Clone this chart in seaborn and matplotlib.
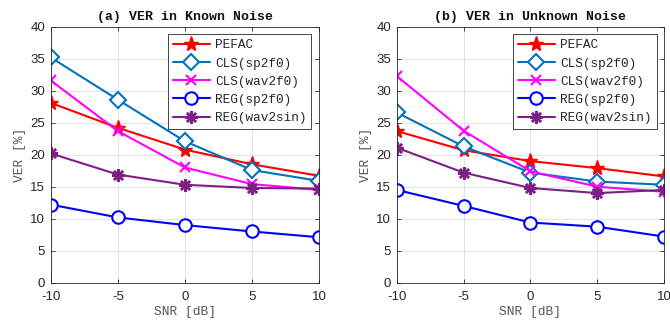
import matplotlib
matplotlib.use("Agg")
import matplotlib.pyplot as plt
import seaborn as sns
import numpy as np

snr = [-10, -5, 0, 5, 10]
methods = ["PEFAC", "CLS(sp2f0)", "CLS(wav2f0)", "REG(sp2f0)", "REG(wav2sin)"]

known_pefac = [28.1, 24.2, 20.8, 18.5, 16.7]
known_cls_sp2f0 = [35.2, 28.6, 22.1, 17.6, 15.9]
known_cls_wav2f0 = [31.6, 23.7, 18.0, 15.4, 14.5]
known_reg_sp2f0 = [12.2, 10.2, 9.0, 8.0, 7.1]
known_reg_wav2sin = [20.2, 16.9, 15.3, 14.8, 14.7]

unk_pefac = [23.7, 20.7, 19.0, 17.9, 16.6]
unk_cls_sp2f0 = [26.6, 21.3, 17.2, 15.8, 15.3]
unk_cls_wav2f0 = [32.3, 23.75, 17.4, 15.0, 14.2]
unk_reg_sp2f0 = [14.5, 12.0, 9.4, 8.75, 7.2]
unk_reg_wav2sin = [21.1, 17.2, 14.8, 14.0, 14.5]

titles = ["(a) VER in Known Noise", "(b) VER in Unknown Noise"]
xticks = [-10, -5, 0, 5, 10]
yticks = [0, 5, 10, 15, 20, 25, 30, 35, 40]

known = [known_pefac, known_cls_sp2f0, known_cls_wav2f0, known_reg_sp2f0, known_reg_wav2sin]
unknown = [unk_pefac, unk_cls_sp2f0, unk_cls_wav2f0, unk_reg_sp2f0, unk_reg_wav2sin]

sns.set_theme(style="ticks")
plt.rcParams["font.family"] = ["Liberation Sans", "DejaVu Sans"]

colors = ["#ff0000", "#0072bd", "#ff00ff", "#0000ff", "#7e1f86"]
styles = [
    dict(marker="*", markersize=11, markerfacecolor="#ff0000", markeredgecolor="#ff0000", markeredgewidth=1.0),
    dict(marker="D", markersize=8, markerfacecolor="white", markeredgecolor="#0072bd", markeredgewidth=1.5),
    dict(marker="x", markersize=7, markerfacecolor="none", markeredgecolor="#ff00ff", markeredgewidth=1.5),
    dict(marker="o", markersize=9, markerfacecolor="white", markeredgecolor="#0000ff", markeredgewidth=1.5),
    dict(marker=(8, 2, 0), markersize=9, markerfacecolor="#7e1f86", markeredgecolor="#7e1f86", markeredgewidth=1.8),
]

fig = plt.figure(figsize=(6.7, 3.23), dpi=100)
ax1 = fig.add_axes([0.0757, 0.1248, 0.4006, 0.7925])
ax2 = fig.add_axes([0.592, 0.1248, 0.3994, 0.7925])

mono = ["Liberation Mono", "DejaVu Sans Mono"]

for ax, data, title in zip([ax1, ax2], [known, unknown], titles):
    for name, vals, col, st in zip(methods, data, colors, styles):
        sns.lineplot(x=snr, y=vals, ax=ax, color=col, linewidth=1.5, label=name, **st)
    ax.set_xlim(-10, 10)
    ax.set_ylim(0, 40)
    ax.set_xticks(xticks)
    ax.set_yticks(yticks)
    ax.set_xticklabels([str(t) for t in xticks], fontsize=9.5, color="#262626")
    ax.set_yticklabels([str(t) for t in yticks], fontsize=9.5, color="#262626")
    ax.grid(True, color="#e3e3e3", linewidth=0.7)
    ax.set_axisbelow(True)
    ax.tick_params(direction="in", top=True, right=True, length=3, width=0.6, color="#262626")
    ax.tick_params(axis="x", pad=6)
    ax.tick_params(axis="y", pad=4)
    for s in ax.spines.values():
        s.set_visible(True)
        s.set_color("#262626")
        s.set_linewidth(0.6)
    ax.set_title(title, fontsize=9.5, fontweight="bold", family=mono, pad=5, color="#111111")
    ax.set_xlabel("SNR [dB]", fontsize=9.3, family=mono, color="#555555", labelpad=2)
    ax.set_ylabel("VER [%]", fontsize=9.3, family=mono, color="#555555", labelpad=3)
    leg = ax.legend(loc="upper right", prop={"family": mono, "size": 9.2},
                    frameon=True, fancybox=False, framealpha=1, edgecolor="#262626",
                    handlelength=2.9, handletextpad=0.4, labelspacing=0.48,
                    borderaxespad=0.6, borderpad=0.4)
    leg.get_frame().set_linewidth(0.6)

fig.savefig("out.png", dpi=100)
